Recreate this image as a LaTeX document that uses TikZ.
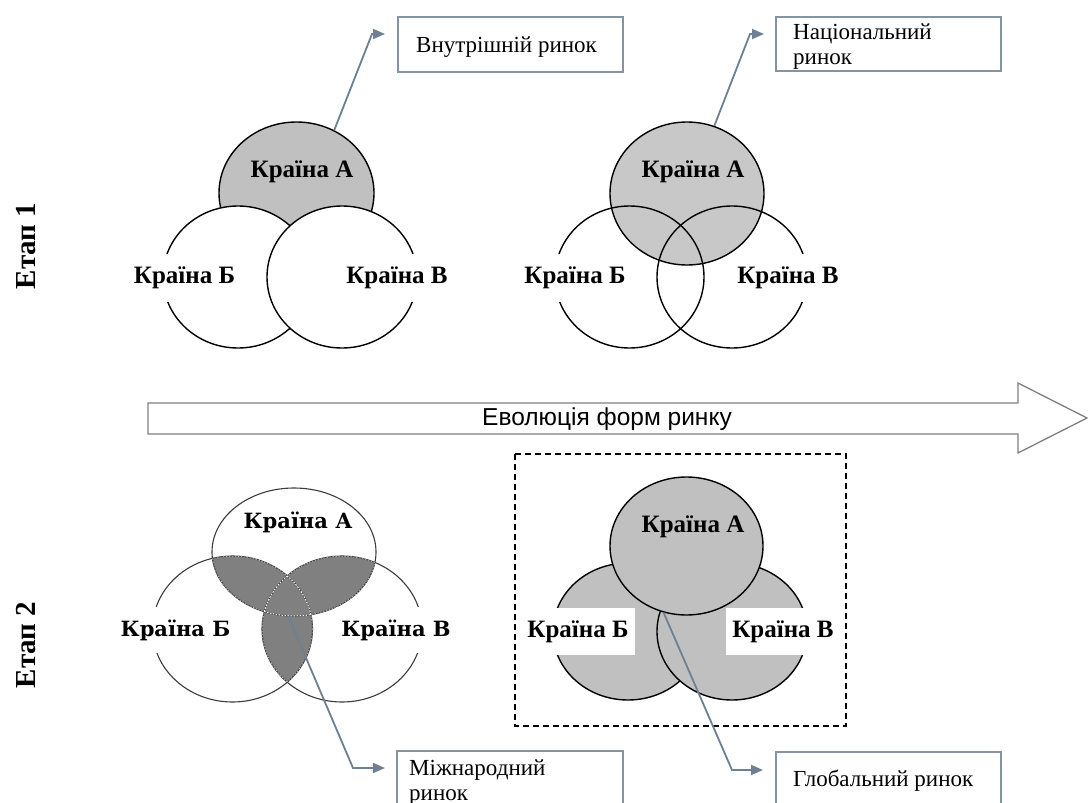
\documentclass[tikz,border=0pt]{standalone}
\usepackage{fontspec}
\setmainfont{Liberation Serif}
\newfontfamily\sansfont{Liberation Sans}
\newfontfamily\slabfont{DejaVu Serif}
\usetikzlibrary{shapes.geometric,arrows.meta}

\definecolor{lightgrey}{RGB}{192,192,192}
\definecolor{midgrey}{RGB}{200,200,200}
\definecolor{darkgrey}{RGB}{128,128,128}
\definecolor{outlinegrey}{RGB}{60,60,60}
\definecolor{boxline}{RGB}{132,148,162}
\definecolor{linkline}{RGB}{110,128,145}
\definecolor{bigarrow}{RGB}{128,128,128}

\tikzset{
  country/.style={ellipse, draw=black, line width=1.4pt, inner sep=0pt},
  softcountry/.style={ellipse, draw=outlinegrey, line width=1.1pt, inner sep=0pt},
  cname/.style={font=\fontsize{25}{27}\selectfont\bfseries, inner sep=0pt},
  cnamebg/.style={cname, fill=white, minimum height=48pt, inner xsep=6pt},
  slabname/.style={font=\fontsize{21}{23}\slabfont\bfseries, inner sep=0pt},
  slabnamebg/.style={slabname, fill=white, minimum height=46pt, inner xsep=5pt},
  stagelabel/.style={font=\fontsize{29}{31}\selectfont\bfseries, rotate=90},
  infobox/.style={draw=boxline, line width=2pt, inner sep=0pt, anchor=north west},
  boxtext/.style={font=\fontsize{23}{25}\selectfont, anchor=base west, inner sep=0pt},
  link/.style={draw=linkline, line width=1.8pt, -{Triangle[length=12pt,width=10pt]}},
  overlapdash/.style={white, line width=0.6pt, dash pattern=on 1.5pt off 1.5pt},
}

\begin{document}
\begin{tikzpicture}[x=1pt,y=-1pt]
\useasboundingbox (0,0) rectangle (1088,803);
\clip (0,0) rectangle (1088,803);
\fill[white] (0,0) rectangle (1088,803);

% ---------- stage labels ----------
\node[stagelabel] (stage1) at (26,246) {Етап 1};
\node[stagelabel] (stage2) at (26,645) {Етап 2};

% ---------- stage 1, domestic market ----------
\node[country, fill=lightgrey, minimum width=155pt, minimum height=142pt] (A1) at (296.5,193) {};
\node[country, fill=white, minimum width=150pt, minimum height=142pt] (B1) at (238,277) {};
\node[country, fill=white, minimum width=150pt, minimum height=142pt] (C1) at (342,277) {};
\node[cname] (lA1) at (302,172) {Країна А};
\node[cnamebg] (lB1) at (184.5,278) {Країна Б};
\node[cnamebg] (lC1) at (397,278) {Країна В};

% ---------- stage 1, national market ----------
\node[country, fill=midgrey, minimum width=154pt, minimum height=143pt] (A2) at (687,193.5) {};
\node[country, minimum width=149pt, minimum height=142pt] (B2) at (629.5,277) {};
\node[country, minimum width=150pt, minimum height=142pt] (C2) at (732,277) {};
\node[cname] (lA2) at (693,172) {Країна А};
\node[cnamebg] (lB2) at (575,278) {Країна Б};
\node[cnamebg] (lC2) at (788,278) {Країна В};

% ---------- upper call-out boxes ----------
\node[infobox, minimum width=225pt, minimum height=55pt] (box1) at (397,16) {};
\node[boxtext] (txt1) at (416,52) {Внутрішній ринок};
\node[infobox, minimum width=225pt, minimum height=54pt] (box2) at (775,16) {};
\node[boxtext] (txt2a) at (793,39) {Національний};
\node[boxtext] (txt2b) at (793,64) {ринок};

\coordinate (tip1) at (385,34);
\coordinate (tip2) at (764,34);
\draw[link] (A1.59) -- (372,34) -- (tip1);
\draw[link] (A2.68) -- (750,34) -- (tip2);

% ---------- evolution arrow ----------
\draw[draw=bigarrow, line width=1.3pt, line join=miter]
  (148,403) -- (1018,403) -- (1018,383) -- (1087,418) -- (1018,453) -- (1018,434) -- (148,434) -- cycle;
\node[font=\fontsize{24.5}{26}\sansfont, inner sep=0pt] (evo) at (607,419) {Еволюція форм ринку};

% ---------- stage 2, international market ----------
\def\pathA{(294,552) ellipse [x radius=82, y radius=64]}
\def\pathB{(232.5,629) ellipse [x radius=80, y radius=73]}
\def\pathC{(342,629) ellipse [x radius=80, y radius=73]}
\begin{scope}
  \clip \pathA;
  \fill[darkgrey] \pathB;
  \fill[darkgrey] \pathC;
\end{scope}
\begin{scope}
  \clip \pathB;
  \fill[darkgrey] \pathC;
\end{scope}
\node[softcountry, minimum width=164pt, minimum height=128pt] (A3) at (294,552) {};
\node[softcountry, minimum width=160pt, minimum height=146pt] (B3) at (232.5,629) {};
\node[softcountry, minimum width=160pt, minimum height=146pt] (C3) at (342,629) {};
% light dashes along the arcs inside the overlaps
\begin{scope}
  \clip \pathA; \clip \pathB;
  \draw[overlapdash] \pathA \pathB \pathC;
\end{scope}
\begin{scope}
  \clip \pathA; \clip \pathC;
  \draw[overlapdash] \pathA \pathB \pathC;
\end{scope}
\begin{scope}
  \clip \pathB; \clip \pathC;
  \draw[overlapdash] \pathA \pathB \pathC;
\end{scope}
\node[slabname] (lA3) at (298,522) {Країна А};
\node[slabnamebg] (lB3) at (175.5,630) {Країна Б};
\node[slabnamebg] (lC3) at (396,630) {Країна В};

% ---------- stage 2, global market ----------
\draw[dashed, dash pattern=on 6pt off 4pt, line width=1.2pt] (515,454) rectangle (846,726);
\node[country, fill=lightgrey, minimum width=150pt, minimum height=137pt] (B4) at (628,631.5) {};
\node[country, fill=lightgrey, minimum width=150pt, minimum height=137pt] (C4) at (732,631.5) {};
\node[country, fill=lightgrey, minimum width=153pt, minimum height=138pt] (A4) at (686.5,546) {};
\node[cname] (lA4) at (693,527) {Країна А};
\node[cnamebg, minimum width=112pt, minimum height=47pt] (lB4) at (578,631.5) {Країна Б};
\node[cnamebg, minimum width=110pt, minimum height=47pt] (lC4) at (783,631.5) {Країна В};

% ---------- lower call-out boxes ----------
\node[infobox, minimum width=226pt, minimum height=70pt] (box3) at (396,750) {};
\node[boxtext] (txt3a) at (409,775) {Міжнародний};
\node[boxtext] (txt3b) at (409,800) {ринок};
\node[infobox, minimum width=225pt, minimum height=70pt] (box4) at (775,751) {};
\node[boxtext] (txt4) at (793,786) {Глобальний ринок};

\coordinate (tip3) at (385,768);
\coordinate (tip4) at (763,770);
\draw[link] (A3.-95) -- (353,768) -- (tip3);
\draw[link] (A4.-109) -- (732,770) -- (tip4);
\end{tikzpicture}
\end{document}
